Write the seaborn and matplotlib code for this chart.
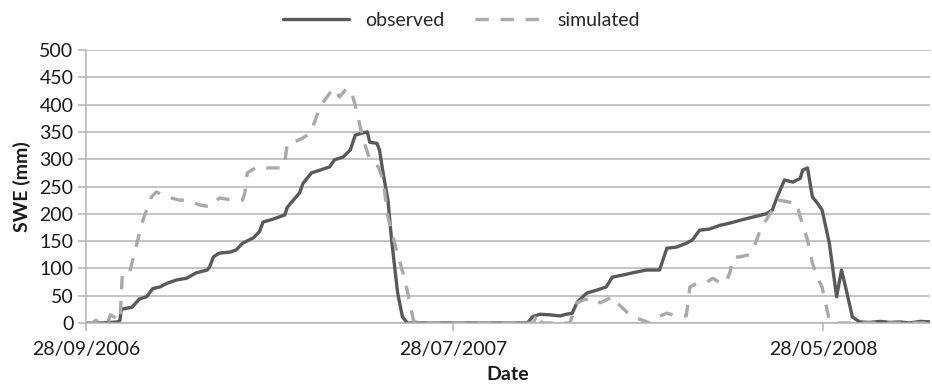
import matplotlib
matplotlib.use("Agg")
import matplotlib.pyplot as plt
import numpy as np
import pandas as pd
import seaborn as sns

start_date = "2006-09-28"
tick_dates = ["2006-09-28", "2007-07-28", "2008-05-28"]
tick_labels = ["28/09/2006", "28/07/2007", "28/05/2008"]
end_day = 696

obs_days = [0, 12, 20, 26, 28, 29, 38, 44, 50, 55, 61, 67, 75, 83, 91, 100, 102, 105, 110, 119,
            124, 129, 138, 143, 146, 154, 164, 166, 171, 176, 179, 186, 193, 201, 205, 212, 218,
            222, 228, 232, 234, 240, 242, 245, 249, 252, 257, 261, 265, 364, 368, 374, 382, 391,
            396, 401, 405, 413, 421, 429, 434, 443, 451, 462, 473, 479, 487, 495, 500, 506, 514,
            523, 531, 541, 550, 561, 566, 570, 576, 583, 589, 591, 595, 599, 603, 607, 613, 619,
            623, 627, 632, 638, 646, 655, 663, 671, 679, 688, 696]
obs_swe = [0, 0, 1, 2, 5, 25, 29, 44, 48, 63, 66, 73, 79, 82, 92, 97, 103, 121, 128, 130,
           134, 146, 156, 167, 185, 190, 198, 212, 225, 238, 256, 275, 280, 286, 299, 304, 317,
           344, 348, 350, 331, 329, 317, 275, 225, 152, 55, 11, 0, 0, 11, 16, 15, 13,
           16, 18, 38, 55, 60, 66, 84, 88, 92, 97, 97, 137, 139, 146, 152, 170, 172,
           179, 183, 189, 194, 200, 207, 231, 262, 258, 265, 280, 284, 231, 220, 207, 146, 48,
           97, 60, 11, 2, 1, 3, 1, 2, 0, 3, 2]

sim_days = [0, 5, 8, 12, 18, 20, 24, 28, 30, 36, 42, 47, 54, 58, 67, 77, 83, 94, 102, 110,
            121, 129, 131, 133, 141, 149, 162, 164, 166, 171, 179, 185, 187, 193, 201, 205, 209,
            215, 219, 223, 228, 234, 237, 241, 245, 249, 256, 263, 267, 270, 273, 364, 369, 372,
            376, 399, 405, 410, 418, 424, 429, 434, 438, 446, 454, 465, 471, 479, 487, 495, 498,
            504, 512, 517, 523, 528, 531, 534, 539, 547, 552, 557, 561, 566, 572, 583, 586, 589,
            595, 599, 603, 607, 613, 616, 696]
sim_swe = [0, 0, 5, 0, 0, 15, 10, 4, 92, 93, 146, 189, 231, 240, 231, 225, 225, 216, 213, 229,
           225, 225, 238, 275, 286, 284, 284, 295, 329, 331, 339, 348, 359, 396, 421, 430, 414,
           430, 423, 390, 341, 299, 295, 286, 262, 194, 134, 79, 37, 5, 0, 0, 0, 18,
           0, 0, 37, 42, 46, 37, 42, 48, 37, 20, 9, 0, 11, 18, 13, 13, 66,
           73, 75, 82, 73, 75, 93, 121, 121, 125, 146, 176, 189, 207, 225, 220, 220, 194,
           152, 110, 84, 66, 5, 0, 0]

t0 = pd.Timestamp(start_date)
obs = pd.DataFrame({"Date": t0 + pd.to_timedelta(obs_days, unit="D"), "SWE": obs_swe})
sim = pd.DataFrame({"Date": t0 + pd.to_timedelta(sim_days, unit="D"), "SWE": sim_swe})

sns.set_theme(style="white")
plt.rcParams["font.family"] = ["Lato", "DejaVu Sans"]

fig, ax = plt.subplots(figsize=(9.32, 3.91), dpi=100)
fig.subplots_adjust(left=86/932, right=930/932, top=1-50/391, bottom=1-323/391)

grid_c = "#b4b4b4"
ax.set_ylim(0, 500)
ax.set_yticks(np.arange(0, 501, 50))
ax.yaxis.grid(True, color=grid_c, lw=1.1)
ax.set_axisbelow(True)

sns.lineplot(data=obs, x="Date", y="SWE", ax=ax, color="#595959", lw=2.4, label="observed")
sns.lineplot(data=sim, x="Date", y="SWE", ax=ax, color="#a9a9a9", lw=2.4, label="simulated",
             dashes=False)
ax.lines[-1].set_dashes((4, 3.5))

ax.set_xlim(t0, t0 + pd.Timedelta(days=end_day))
ax.set_xticks(pd.to_datetime(tick_dates))
ax.set_xticklabels(tick_labels)

for s in ["top", "right"]:
    ax.spines[s].set_visible(False)
ax.spines["left"].set_color(grid_c)
ax.spines["bottom"].set_color(grid_c)
ax.spines["left"].set_linewidth(1.1)
ax.spines["bottom"].set_linewidth(1.1)

ax.tick_params(axis="both", labelsize=14, colors=grid_c, labelcolor="#1a1a1a")
ax.tick_params(axis="y", length=6, width=1.1, pad=3, left=True)
ax.tick_params(axis="x", length=6, width=1.1, pad=7, bottom=True)

ax.set_ylabel("SWE (mm)", fontsize=14, fontweight="bold", color="#1a1a1a", labelpad=6)
ax.set_xlabel("Date", fontsize=14, fontweight="bold", color="#1a1a1a", labelpad=6)

ax.get_legend().remove()
h, l = ax.get_legend_handles_labels()
fig.legend(h, l, loc="upper center", bbox_to_anchor=(0.495, 1.015), ncol=2, frameon=False,
           fontsize=14, handlelength=3.4, columnspacing=1.6)

fig.savefig("out.png", dpi=100)
